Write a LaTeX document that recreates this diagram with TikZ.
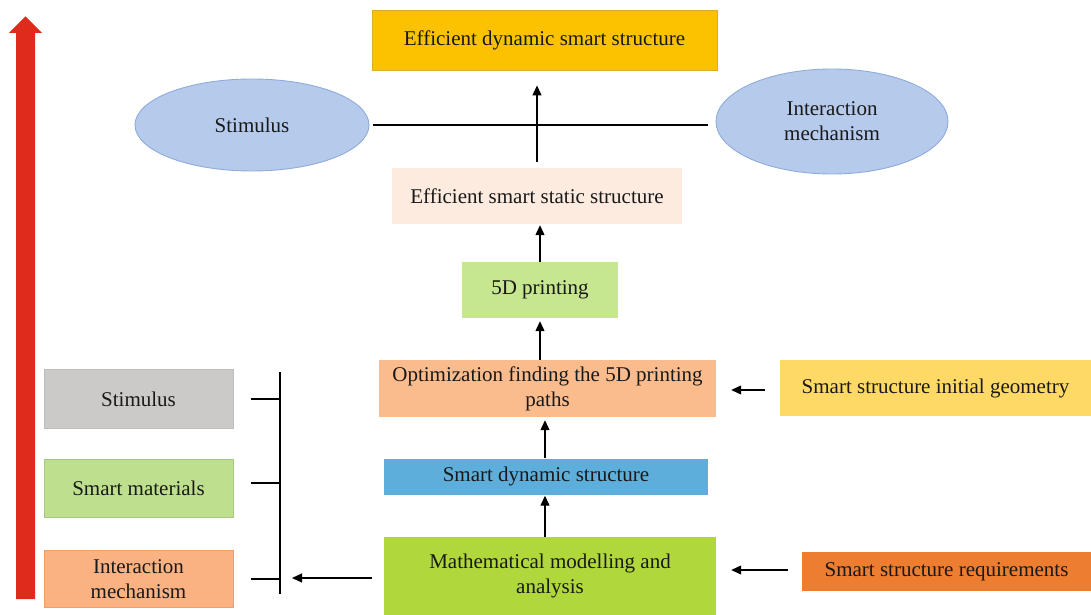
\documentclass[tikz,border=0pt]{standalone}
\usepackage{fontspec}
\setmainfont{Liberation Serif}
\usetikzlibrary{shapes.geometric,arrows.meta}
\definecolor{cTop}{HTML}{FCC200}
\definecolor{cTopB}{HTML}{DDAA2A}
\definecolor{cEll}{HTML}{B6CBEB}
\definecolor{cEllB}{HTML}{8FAADC}
\definecolor{cStatic}{HTML}{FDEBDF}
\definecolor{cFive}{HTML}{C7E690}
\definecolor{cOpt}{HTML}{FBBC8D}
\definecolor{cGeo}{HTML}{FFD966}
\definecolor{cSdyn}{HTML}{5DAEDA}
\definecolor{cMath}{HTML}{B0D83C}
\definecolor{cReq}{HTML}{ED7D31}
\definecolor{cGray}{HTML}{CBCAC9}
\definecolor{cGrayB}{HTML}{BDBDBD}
\definecolor{cMat}{HTML}{BEE08E}
\definecolor{cMatB}{HTML}{A3C985}
\definecolor{cInt}{HTML}{FBB283}
\definecolor{cIntB}{HTML}{EE9E68}
\definecolor{cRed}{HTML}{DE2B1C}
\begin{document}
\begin{tikzpicture}[x=1pt,y=-1pt,
  every node/.style={font=\fontsize{21}{25}\selectfont, text=black!90, align=center, inner sep=0pt},
  box/.style={rectangle, minimum width=#1},
  ell/.style={ellipse, fill=cEll, draw=cEllB, line width=0.9pt},
  arr/.style={line width=1.2pt, -{Triangle[length=10pt,width=9pt]}},
  ln/.style={line width=1.2pt}
]
\useasboundingbox (0,0) rectangle (1091,615);
% red progress arrow
\fill[cRed] (16,599) -- (16,33) -- (9,33) -- (25.5,16.5) -- (42,33) -- (35,33) -- (35,599) -- cycle;

% top part
\node[box=345, minimum height=60, fill=cTop, draw=cTopB, line width=0.9pt] (top) at (544.5,40) {Efficient dynamic smart structure};
\node[ell, minimum width=234, minimum height=92] (stim) at (252,125) {Stimulus};
\node[ell, minimum width=232, minimum height=105] (inter) at (832,121.5) {Interaction\\mechanism};
\node[box=290, minimum height=56, fill=cStatic] (static) at (537,196) {Efficient smart static structure};
\node[box=156, minimum height=56, fill=cFive] (fived) at (540,290) {5D printing};
\node[box=337, minimum height=57, fill=cOpt] (opt) at (547.5,388.5) {Optimization finding the 5D printing\\paths};
\node[box=311, minimum height=56, fill=cGeo] (geo) at (935.5,388) {Smart structure initial geometry};
\node[box=324, minimum height=36, fill=cSdyn] (sdyn) at (546,476.5) {Smart dynamic structure};
\node[box=332, minimum height=78, fill=cMath] (math) at (550,576) {Mathematical modelling and\\analysis};
\node[box=289, minimum height=39, fill=cReq] (req) at (946.5,571.5) {Smart structure requirements};

% left boxes
\node[box=189, minimum height=59, fill=cGray, draw=cGrayB, line width=0.9pt] (lstim) at (138.5,399) {Stimulus};
\node[box=189, minimum height=58, fill=cMat, draw=cMatB, line width=0.9pt] (lmat) at (138.5,488) {Smart materials};
\node[box=189, minimum height=57, fill=cInt, draw=cIntB, line width=0.9pt] (lint) at (138.5,579) {Interaction\\mechanism};

% bracket
\coordinate (bt) at (280,372);
\coordinate (bb) at (280,594);
\draw[ln] (bt) -- (bb);
\draw[ln] ([xshift=18pt]lstim.east) -- (lstim.east -| bt);
\draw[ln] ([xshift=18pt,yshift=5pt]lmat.east) -- ([yshift=5pt]lmat.east -| bt);
\draw[ln] ([xshift=18pt]lint.east) -- (lint.east -| bt);

% connectors
\draw[ln, shorten <=4pt, shorten >=8pt] (stim.east) -- (stim.east -| inter.west);
\draw[arr, shorten <=6pt, shorten >=15pt] (static.north) -- (static.north |- top.south);
\draw[arr, shorten >=1pt] (fived.north) -- (fived.north |- static.south);
\draw[arr, shorten >=3pt] (fived.south |- opt.north) -- (fived.south);
\draw[arr, shorten >=3pt] (sdyn.north -| 545,0) -- (opt.south -| 545,0);
\draw[arr, shorten >=1pt] (math.north -| 545,0) -- (sdyn.south -| 545,0);
\draw[arr, shorten <=15pt, shorten >=15pt] (geo.west |- 0,390) -- (opt.east |- 0,390);
\draw[arr, shorten <=14pt, shorten >=15pt] (req.west |- 0,570) -- (math.east |- 0,570);
\draw[arr, shorten <=12pt, shorten >=12pt] (math.west |- 0,578) -- (bb |- 0,578);
\end{tikzpicture}
\end{document}
